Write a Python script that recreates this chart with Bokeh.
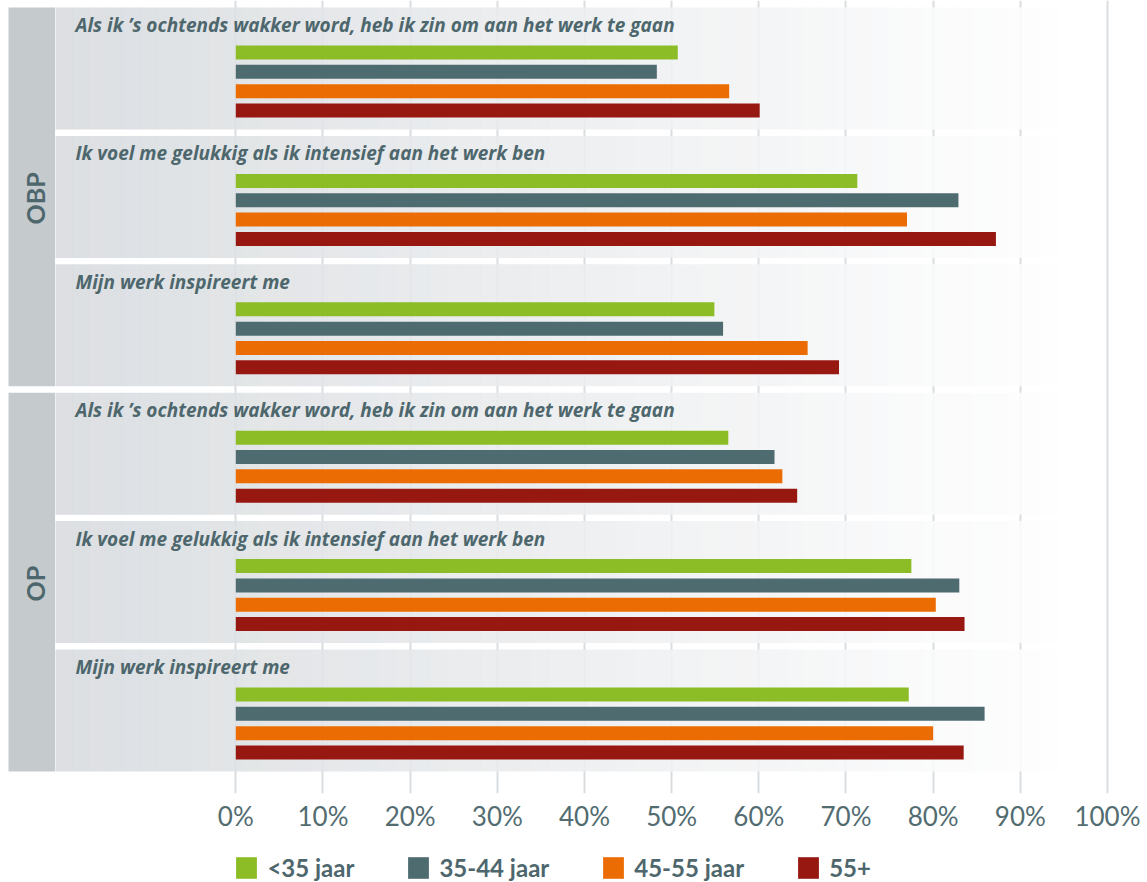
import math
from bokeh.plotting import figure
from bokeh.layouts import column
from bokeh.models import Range1d, FixedTicker, Legend, LegendItem, ColumnDataSource
from bokeh.core.properties import value
from bokeh.embed import file_html
from bokeh.resources import INLINE

# ---------------- data ----------------
groups = ["OBP", "OP"]
questions = [
    "Als ik \u2019s ochtends wakker word, heb ik zin om aan het werk te gaan",
    "Ik voel me gelukkig als ik intensief aan het werk ben",
    "Mijn werk inspireert me",
]
ages = ["<35 jaar", "35-44 jaar", "45-55 jaar", "55+"]
# order of panels: OBP q1, q2, q3, OP q1, q2, q3  (percent agreeing)
young = [50.7, 71.3, 54.9, 56.5, 77.5, 77.2]
middle = [48.3, 82.9, 55.9, 61.8, 83.0, 85.9]
older = [56.6, 77.0, 65.6, 62.7, 80.3, 80.0]
senior = [60.1, 87.2, 69.2, 64.4, 83.6, 83.5]
series = [young, middle, older, senior]
colors = ["#8cbd26", "#4e6b70", "#ec6c04", "#971711"]
ticks = [0, 10, 20, 30, 40, 50, 60, 70, 80, 90, 100]
tick_labels = ["0%", "10%", "20%", "30%", "40%", "50%", "60%", "70%", "80%", "90%", "100%"]

# ---------------- layout (pixels) ----------------
W, FH = 1147, 793
X0, PX10 = 235.3, 87.17          # pixel of 0%, pixels per 10%
PANEL_TOP0, PANEL_STEP, PANEL_H = 7.0, 128.4, 122.0
BAR_OFF0, BAR_STEP, BAR_H = 45.0, 19.33, 14
TEXT_COL = "#4d676d"
AXIS_H = 40
LEG_H = 882 - FH - AXIS_H

p = figure(frame_width=W, frame_height=FH,
           x_range=Range1d(-X0 / PX10 * 10, (W - X0) / PX10 * 10),
           y_range=Range1d(FH, 0),
           output_backend="svg", toolbar_location=None,
           y_axis_location=None, x_axis_location="below",
           min_border_left=0, min_border_right=0, min_border_top=0, min_border_bottom=AXIS_H)
p.extra_x_ranges = {"px": Range1d(0, W)}
p.outline_line_color = None
p.background_fill_color = "white"
p.border_fill_color = "white"

npanels = len(groups) * len(questions)
tops = [PANEL_TOP0 + k * PANEL_STEP for k in range(npanels)]

# gradient panel backgrounds (slightly translucent so the grid shows faintly)
ALPHA = 0.88
c_left = (0xdc, 0xdf, 0xe2)
c_right = (0xff, 0xff, 0xff)
x_start, x_white, nstrip = 55.0, 1075.0, 60
sl, sr, st, sb, sc = [], [], [], [], []
for k in range(npanels):
    for i in range(nstrip):
        a = x_start + (x_white - x_start) * i / nstrip
        b = x_start + (x_white - x_start) * (i + 1) / nstrip
        t = (i + 0.5) / nstrip
        eff = [c_left[j] + (c_right[j] - c_left[j]) * t for j in range(3)]
        raw = [max(0, min(255, int(round((e - (1 - ALPHA) * 255) / ALPHA)))) for e in eff]
        sl.append(a); sr.append(b + 0.6); st.append(tops[k]); sb.append(tops[k] + PANEL_H)
        sc.append("#%02x%02x%02x" % tuple(raw))
p.quad(left=sl, right=sr, top=st, bottom=sb, fill_color=sc, fill_alpha=ALPHA, line_color=None,
       x_range_name="px", level="underlay")

# group label columns
nq = len(questions)
gl_top = [tops[g * nq] for g in range(len(groups))]
gl_bot = [tops[g * nq + nq - 1] + PANEL_H for g in range(len(groups))]
p.quad(left=[8] * len(groups), right=[54.5] * len(groups), top=gl_top, bottom=gl_bot,
       fill_color="#c5cacd", line_color=None, x_range_name="px", level="underlay")
p.text(x=[34] * len(groups), y=[(a + b) / 2 + 1.5 for a, b in zip(gl_top, gl_bot)], text=groups,
       angle=math.pi / 2, text_align="center", text_baseline="middle",
       text_font=value("Lato"), text_font_style="bold", text_font_size="25px",
       text_color=TEXT_COL, x_range_name="px")

# question titles
p.text(x=[75] * npanels, y=[t + 17.5 for t in tops], text=questions * len(groups),
       text_align="left", text_baseline="middle",
       text_font=value("Open Sans"), text_font_style="bold italic", text_font_size="19px",
       text_color=TEXT_COL, x_range_name="px")

# bars
for a, vals in enumerate(series):
    src = ColumnDataSource(dict(y=[t + BAR_OFF0 + a * BAR_STEP for t in tops], right=vals))
    p.hbar(y="y", left=0, right="right", height=BAR_H, source=src,
           fill_color=colors[a], line_color=None)

# grid & axis
p.xgrid.ticker = FixedTicker(ticks=ticks)
p.xgrid.grid_line_color = "#d9dde0"
p.xgrid.grid_line_width = 2
p.xgrid.level = "image"
p.ygrid.visible = False
ax = p.xaxis[0]
ax.ticker = FixedTicker(ticks=ticks)
ax.major_label_overrides = {t: l for t, l in zip(ticks, tick_labels)}
ax.axis_line_color = None
ax.major_tick_line_color = None
ax.minor_tick_line_color = None
ax.major_tick_out = 0
ax.major_tick_in = 0
ax.major_label_standoff = 6
ax.major_label_text_font = "Lato"
ax.major_label_text_font_size = "26px"
ax.major_label_text_color = "#526c71"

# ---------------- legend strip ----------------
lg = figure(frame_width=W, frame_height=LEG_H, x_range=Range1d(0, W), y_range=Range1d(0, LEG_H),
            output_backend="svg", toolbar_location=None,
            x_axis_location=None, y_axis_location=None,
            min_border_left=0, min_border_right=0, min_border_top=0, min_border_bottom=0)
lg.outline_line_color = None
lg.xgrid.visible = False
lg.ygrid.visible = False
lg.background_fill_color = "white"
lg.border_fill_color = "white"
leg_renderers = []
for a, vals in enumerate(series):
    # same series, parked far outside this strip's visible range (only the swatch is shown)
    src = ColumnDataSource(dict(y=[-1000.0] * len(vals), right=vals))
    leg_renderers.append(lg.hbar(y="y", left=0, right="right", height=1, source=src,
                                 fill_color=colors[a], line_color=None))
legend = Legend(items=[LegendItem(label=ages[i], renderers=[leg_renderers[i]]) for i in range(4)],
                location=(233.4, 1), orientation="horizontal",
                glyph_width=26, glyph_height=27, label_standoff=8, spacing=51,
                padding=0, margin=0, border_line_color=None, background_fill_alpha=0,
                label_text_font="Lato", label_text_font_style="bold",
                label_text_font_size="24px", label_text_color=TEXT_COL)
lg.add_layout(legend)

layout = column(p, lg, spacing=0)
open("out.html", "w").write(file_html(layout, INLINE))
